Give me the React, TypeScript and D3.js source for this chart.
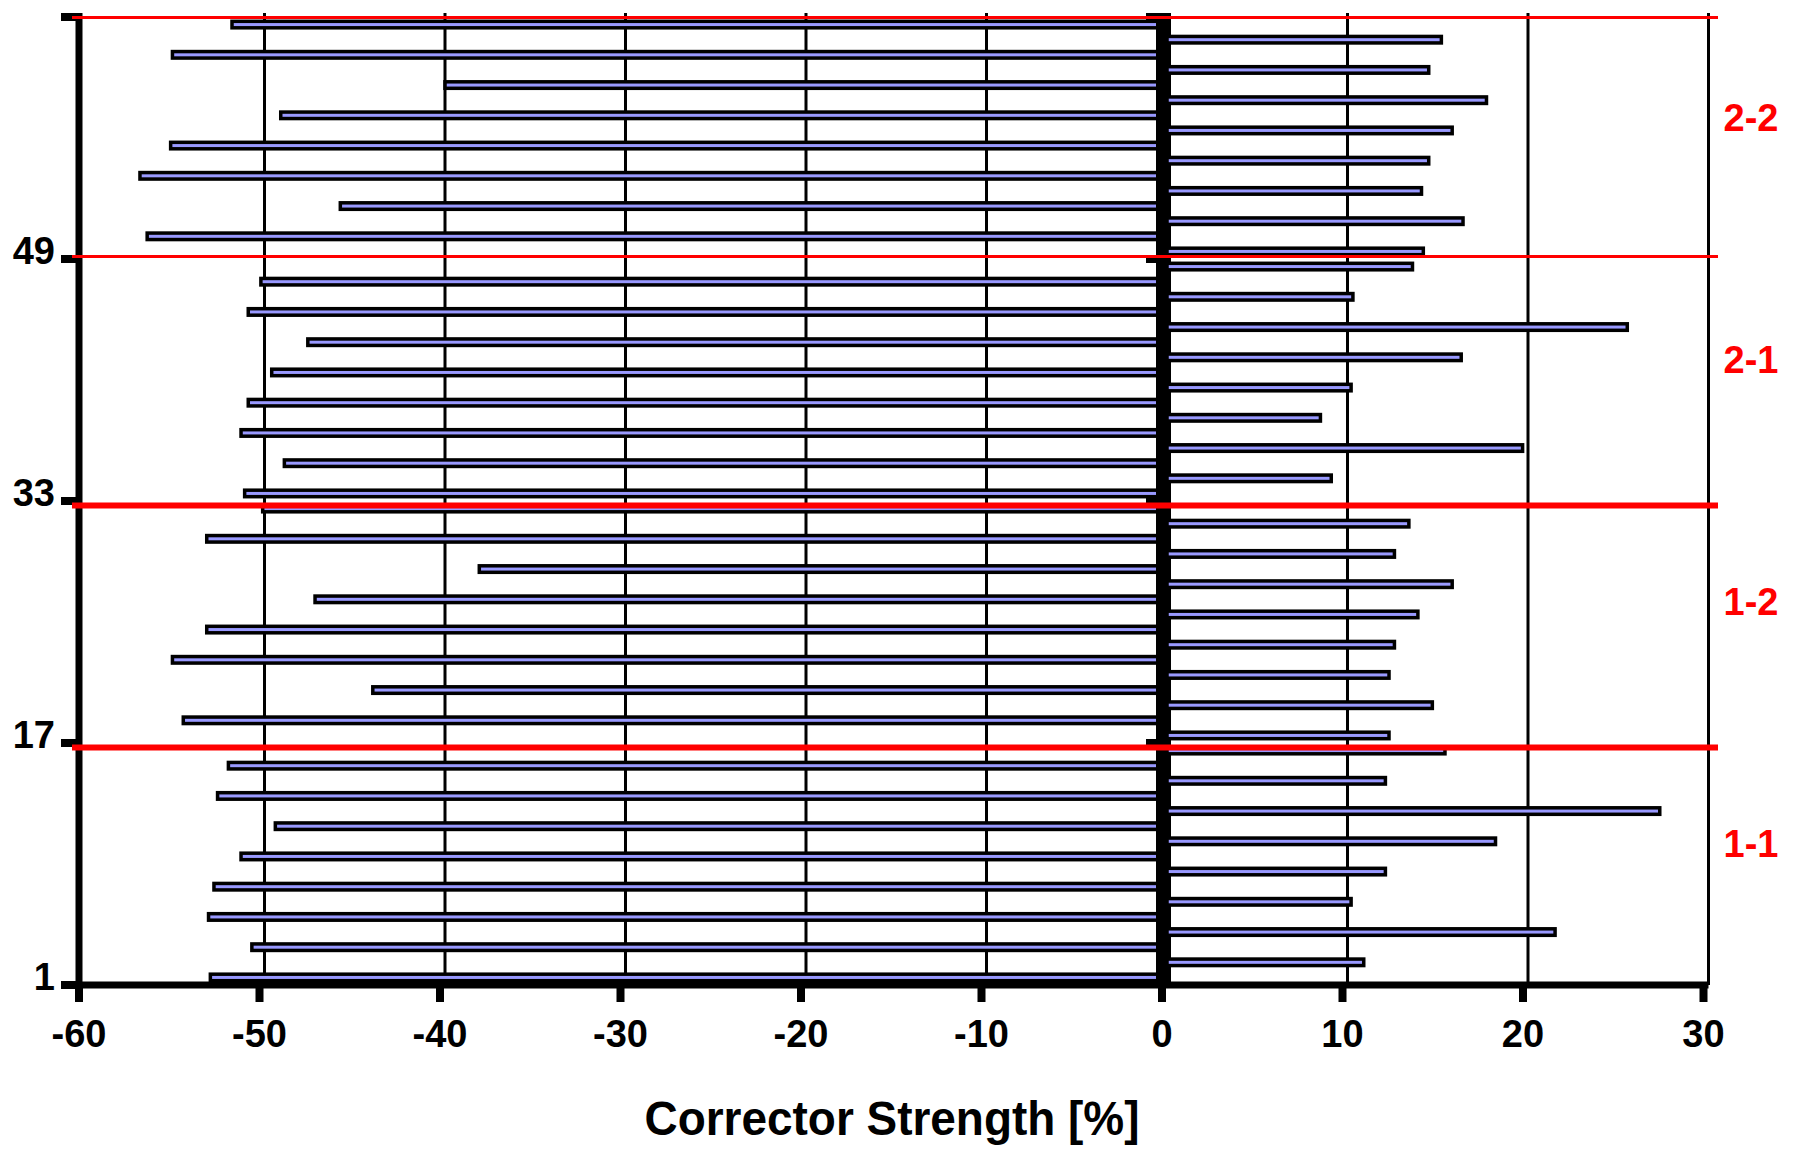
import React from "react";
import * as d3 from "d3";

// ---- data ----
const categories: number[] = d3.range(1, 65);
const values: number[] = [
  -53.0, 10.9, -50.7, 21.5, -53.1, 10.2, -52.8, 12.1, -51.3, 18.2, -49.4, 27.3, -52.6, 12.1, -52.0, 15.4,
  12.3, -54.5, 14.7, -44.0, 12.3, -55.1, 12.6, -53.2, 13.9, -47.2, 15.8, -38.1, 12.6, -53.2, 13.4, -50.1,
  -51.1, 9.1, -48.9, 19.7, -51.3, 8.5, -50.9, 10.2, -49.6, 16.3, -47.6, 25.5, -50.9, 10.3, -50.2, 13.6,
  14.2, -56.5, 16.4, -45.8, 14.1, -56.9, 14.5, -55.2, 15.8, -49.1, 17.7, -40.0, 14.5, -55.1, 15.2, -51.8,
];
const xTickValues: number[] = [-60, -50, -40, -30, -20, -10, 0, 10, 20, 30];
const yTickCategories: number[] = [1, 17, 33, 49, 65];
const yTickLabels: string[] = ["1", "17", "33", "49"];
const groupNames: string[] = ["1-1", "1-2", "2-1", "2-2"];
const groupStarts: number[] = [1, 17, 33, 49];
const groupSize = 16;
const axisTitle = "Corrector Strength [%]";

const FONT = "'Liberation Sans', Arial, Helvetica, sans-serif";

export default function App() {
  const W = 1796;
  const H = 1152;
  const x = d3.scaleLinear().domain([-60, 30]).range([84, 1708.5]);
  const yTop = 17;
  const yBottom = 985;
  const y = d3
    .scaleBand<number>()
    .domain(categories.slice().reverse())
    .range([yTop, yBottom])
    .paddingInner(0.57)
    .paddingOuter(0.285);
  const yEdge = d3.scaleLinear().domain([1, 65]).range([yBottom, yTop]);
  const bw = y.bandwidth();
  const x0 = x(0);
  const axOff = -5; // axis/tick offset relative to plot grid

  const data = categories.map((c, i) => ({ c, v: values[i] }));
  const neg = data.filter((d) => d.v < 0);
  const pos = data.filter((d) => d.v >= 0);

  return (
    <svg
      width={W}
      height={H}
      viewBox={`0 0 ${W} ${H}`}
      style={{ position: "absolute", left: 0, top: 0, background: "#fff" }}
    >
      <rect x={0} y={0} width={W} height={H} fill="#fff" />
      {/* gridlines */}
      {xTickValues
        .filter((v) => v !== -60 && v !== 0)
        .map((v) => (
          <line key={"g" + v} x1={x(v)} x2={x(v)} y1={13} y2={yBottom} stroke="#000" strokeWidth={3} />
        ))}
      {/* negative bars */}
      {neg.map((d) => (
        <rect
          key={"n" + d.c}
          x={x(d.v)}
          y={y(d.c)}
          width={x0 - x(d.v)}
          height={bw}
          fill="#9999FF"
          stroke="#000"
          strokeWidth={3.5}
        />
      ))}
      {/* zero axis */}
      <rect x={x0 + axOff - 6} y={13} width={15} height={yBottom - 13} fill="#000" />
      {yTickCategories.slice(1).map((c) => (
        <rect key={"zt" + c} x={x0 + axOff - 16} y={yEdge(c) - 4} width={12} height={8} fill="#000" />
      ))}
      {/* positive bars */}
      {pos.map((d) => (
        <rect
          key={"p" + d.c}
          x={x0}
          y={y(d.c)}
          width={x(d.v) - x0}
          height={bw}
          fill="#9999FF"
          stroke="#000"
          strokeWidth={3.5}
        />
      ))}
      {/* left axis */}
      <rect x={x(-60) + axOff - 3.5} y={13} width={7} height={yBottom + 4 - 13} fill="#000" />
      {yTickCategories.map((c) => (
        <rect key={"yt" + c} x={61} y={yEdge(c) - 4} width={20} height={8} fill="#000" />
      ))}
      {/* bottom axis */}
      <rect x={61} y={yBottom - 3.5} width={x(30) - 61} height={7} fill="#000" />
      {xTickValues.map((v) => (
        <rect key={"xt" + v} x={x(v) + axOff - 4} y={yBottom} width={8} height={17} fill="#000" />
      ))}
      {/* red separator lines */}
      {yTickCategories.slice(1).map((c, i) => {
        const thick = i < 2;
        const yy = yEdge(c) + (thick ? 4.5 : c === 65 ? 0.5 : -2.5);
        return (
          <line
            key={"r" + c}
            x1={72}
            x2={1718}
            y1={yy}
            y2={yy}
            stroke="#FF0000"
            strokeWidth={thick ? 6 : 3}
          />
        );
      })}
      {/* y tick labels */}
      {yTickLabels.map((t, i) => (
        <text
          key={"yl" + t}
          x={55}
          y={yEdge(yTickCategories[i]) + 4.5}
          textAnchor="end"
          fontFamily={FONT}
          fontWeight="bold"
          fontSize={38}
          fill="#000"
        >
          {t}
        </text>
      ))}
      {/* x tick labels */}
      {xTickValues.map((v) => (
        <text
          key={"xl" + v}
          x={x(v) + axOff}
          y={1047}
          textAnchor="middle"
          fontFamily={FONT}
          fontWeight="bold"
          fontSize={38}
          fill="#000"
        >
          {String(v)}
        </text>
      ))}
      {/* group labels */}
      {groupNames.map((g, i) => {
        const yc = (yEdge(groupStarts[i]) + yEdge(groupStarts[i] + groupSize)) / 2;
        return (
          <text
            key={"gl" + g}
            x={1751}
            y={yc - 7}
            textAnchor="middle"
            fontFamily={FONT}
            fontWeight="bold"
            fontSize={38}
            fill="#FF0000"
          >
            {g}
          </text>
        );
      })}
      {/* axis title */}
      <text
        x={892}
        y={1135}
        textAnchor="middle"
        fontFamily={FONT}
        fontWeight="bold"
        fontSize={48}
        textLength={495}
        lengthAdjust="spacingAndGlyphs"
        fill="#000"
      >
        {axisTitle}
      </text>
    </svg>
  );
}
